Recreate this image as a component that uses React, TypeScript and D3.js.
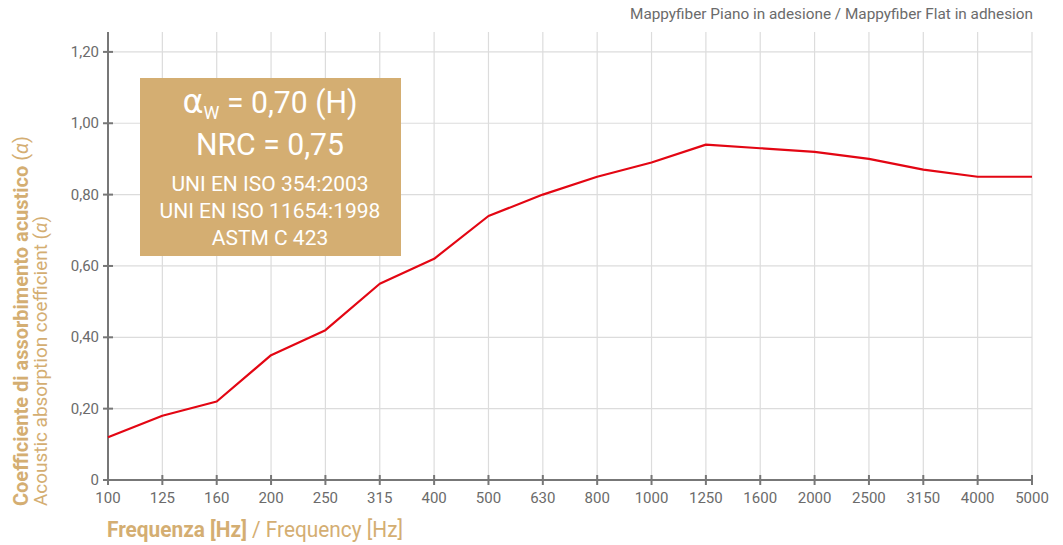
import React from "react";
import * as d3 from "d3";

const frequencies = ["100","125","160","200","250","315","400","500","630","800","1000","1250","1600","2000","2500","3150","4000","5000"];
const alphaValues = [0.12,0.18,0.22,0.35,0.42,0.55,0.62,0.74,0.80,0.85,0.89,0.94,0.93,0.92,0.90,0.87,0.85,0.85];
const yTicks = [0,0.2,0.4,0.6,0.8,1.0,1.2];
const yTickLabels = ["0","0,20","0,40","0,60","0,80","1,00","1,20"];
const boxLines = ["UNI EN ISO 354:2003","UNI EN ISO 11654:1998","ASTM C 423"];

const W = 1063, H = 545;
const left = 108, right = 1032, top = 32, bottom = 480;
const tan = "#d4ae72";
const gray = "#6b6b6b";
const narrow = "'Liberation Sans Narrow', 'Arial Narrow', Roboto, sans-serif";

export default function App() {
  const x = d3.scalePoint<string>().domain(frequencies).range([left, right]);
  const y = d3.scaleLinear().domain([0, 1.2]).range([bottom, bottom - 6 * 71.35]);
  const line = d3.line<number>().x((_, i) => x(frequencies[i])!).y(d => y(d));
  return (
    <svg width={W} height={H} style={{ position: "absolute", left: 0, top: 0 }}>
      <rect width={W} height={H} fill="#fff" />
      <text x={1033} y={19} textAnchor="end" fill={gray} fontSize={15} fontFamily={narrow} textLength={403} lengthAdjust="spacingAndGlyphs">
        Mappyfiber Piano in adesione / Mappyfiber Flat in adhesion
      </text>
      {/* grid */}
      {frequencies.slice(1).map(f => (
        <line key={f} x1={x(f)} x2={x(f)} y1={top} y2={bottom} stroke="#dcdcdc" strokeWidth={1.2} />
      ))}
      {yTicks.slice(1).map(t => (
        <line key={t} x1={left} x2={right} y1={y(t)} y2={y(t)} stroke="#dcdcdc" strokeWidth={1.2} />
      ))}
      {/* axes */}
      <line x1={left} x2={left} y1={top} y2={bottom + 4} stroke="#777" strokeWidth={2} />
      <line x1={left - 4} x2={right} y1={bottom} y2={bottom} stroke="#777" strokeWidth={2} />
      {yTicks.map((t, i) => (
        <g key={t}>
          <line x1={left - 5} x2={left + 5} y1={y(t)} y2={y(t)} stroke="#777" strokeWidth={2} />
          <text x={left - 9} y={y(t) + 5} textAnchor="end" fill={gray} fontSize={15} fontFamily={narrow}>{yTickLabels[i]}</text>
        </g>
      ))}
      {frequencies.map(f => (
        <g key={f}>
          <line x1={x(f)} x2={x(f)} y1={bottom - 5} y2={bottom + 5} stroke="#777" strokeWidth={2} />
          <text x={x(f)} y={bottom + 23} textAnchor="middle" fill={gray} fontSize={15} fontFamily={narrow}>{f}</text>
        </g>
      ))}
      {/* data line */}
      <path d={line(alphaValues)!} fill="none" stroke="#e30613" strokeWidth={2.2} strokeLinejoin="round" />
      {/* box */}
      <rect x={140} y={78} width={261} height={178} fill={tan} />
      <g fill="#fff" fontFamily={narrow} textAnchor="middle">
        <text x={270} y={113} fontSize={32} textLength={175} lengthAdjust="spacingAndGlyphs">
          <tspan fontSize={34} fontFamily="'DejaVu Sans', sans-serif">α</tspan>
          <tspan fontSize={19} dy={6}>W</tspan>
          <tspan dy={-6}> = 0,70 (H)</tspan>
        </text>
        <text x={270} y={155} fontSize={32} textLength={148} lengthAdjust="spacingAndGlyphs">NRC = 0,75</text>
        {boxLines.map((l, i) => (
          <text key={l} x={270} y={191 + i * 27} fontSize={21}>{l}</text>
        ))}
      </g>
      {/* y title */}
      <g transform="translate(28,506) rotate(-90)" fontFamily={narrow} fill={tan}>
        <text x={0} y={0} fontSize={20} textLength={370} lengthAdjust="spacingAndGlyphs">
          <tspan fontWeight="bold">Coefficiente di assorbimento acustico</tspan>
          <tspan> (</tspan><tspan fontStyle="italic">α</tspan><tspan>)</tspan>
        </text>
        <text x={0} y={19} fontSize={19} textLength={290} lengthAdjust="spacingAndGlyphs">Acoustic absorption coefficient (<tspan fontStyle="italic">α</tspan>)</text>
      </g>
      {/* x title */}
      <text x={107} y={537} fontFamily={narrow} fontSize={22} fill={tan} textLength={296} lengthAdjust="spacingAndGlyphs">
        <tspan fontWeight="bold">Frequenza [Hz]</tspan>
        <tspan> / Frequency [Hz]</tspan>
      </text>
    </svg>
  );
}
